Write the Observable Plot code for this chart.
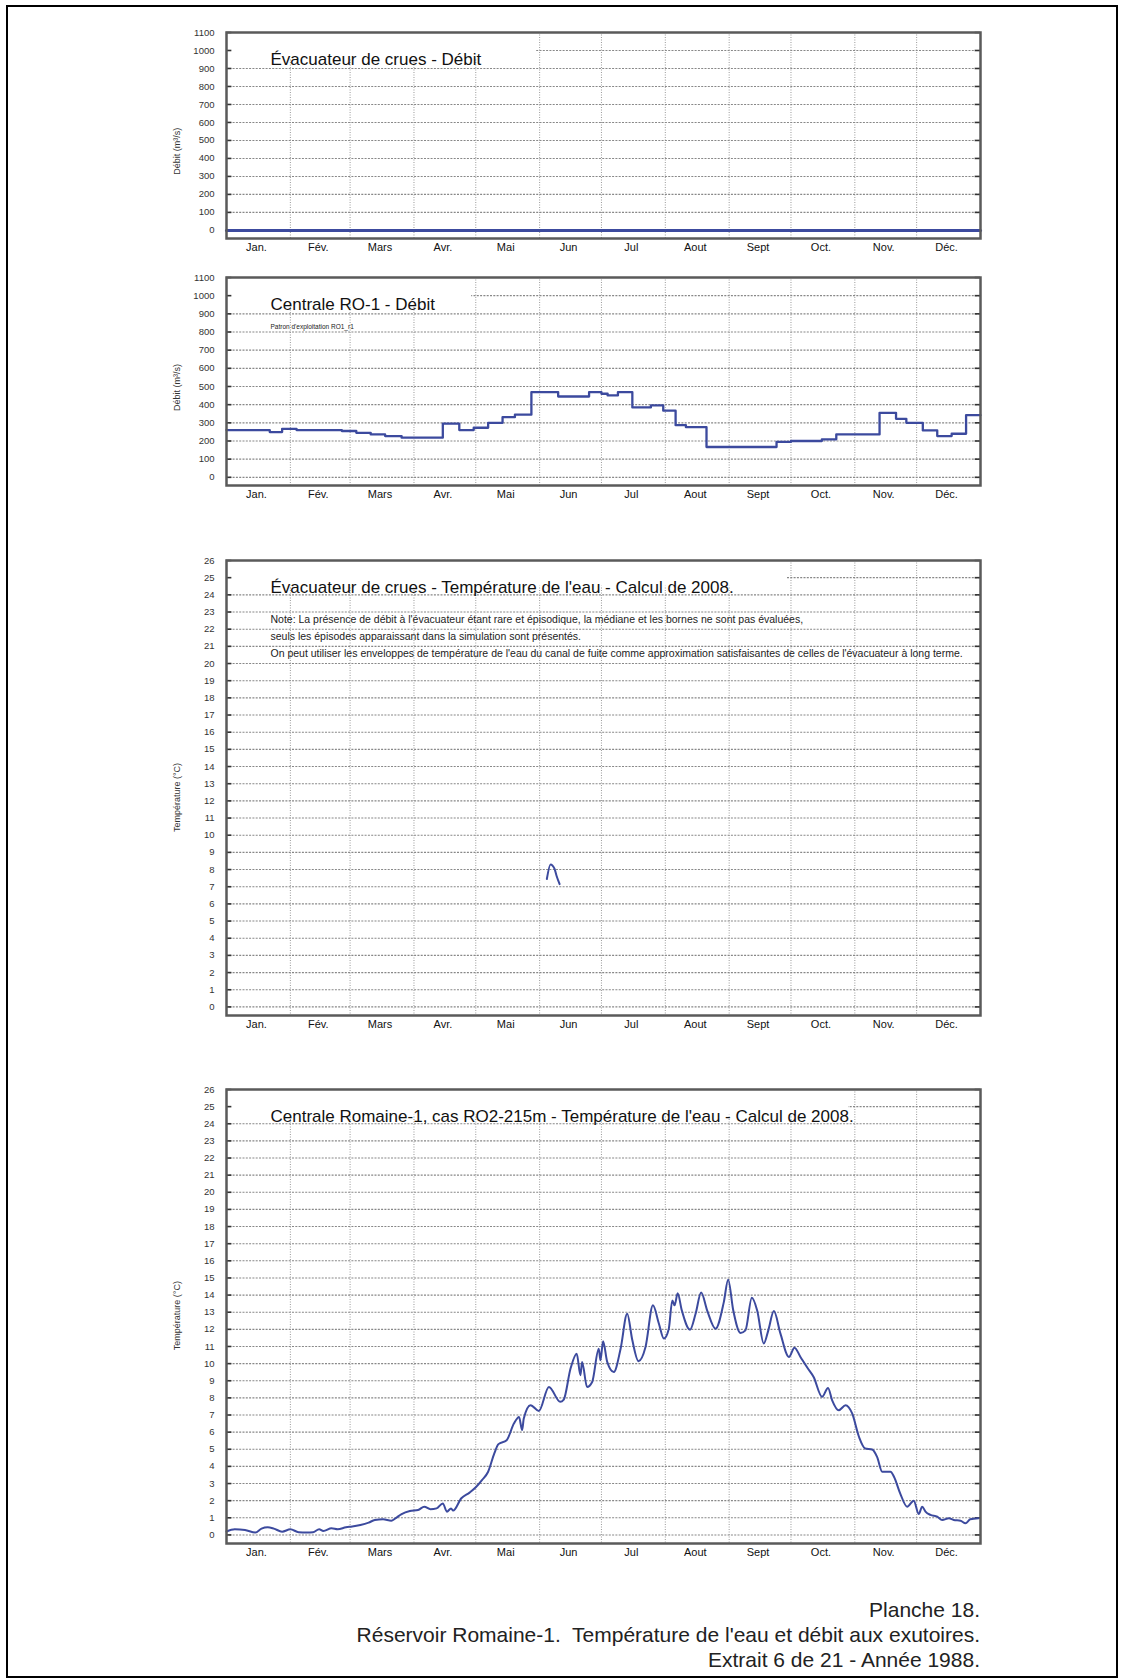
<!DOCTYPE html>
<html><head><meta charset="utf-8">
<script src="https://cdn.jsdelivr.net/npm/d3@7"></script>
<script src="https://cdn.jsdelivr.net/npm/@observablehq/plot@0.6"></script>
<style>
body{margin:0;background:#fff;}
#page{position:relative;width:1124px;height:1678px;font-family:"Liberation Sans",Arial,sans-serif;overflow:hidden;background:#fff;}
#border{position:absolute;left:6px;top:5px;right:6px;bottom:0px;border:2px solid #000;z-index:5;pointer-events:none;}
.panel{position:absolute;left:0;}
#caption{position:absolute;right:144px;top:1597px;text-align:right;font-size:21px;line-height:25px;color:#222;white-space:pre;}
</style></head>
<body><div id="page"><div id="border"></div><div id="caption"></div></div>
<script>
// ---------- data ----------
const months = ["Jan.","Fév.","Mars","Avr.","Mai","Jun","Jul","Aout","Sept","Oct.","Nov.","Déc."];
const debitTicks = [0,100,200,300,400,500,600,700,800,900,1000,1100];
const tempTicks = [0,1,2,3,4,5,6,7,8,9,10,11,12,13,14,15,16,17,18,19,20,21,22,23,24,25,26];

const titles = [
  "Évacuateur de crues - Débit",
  "Centrale RO-1 - Débit",
  "Évacuateur de crues - Température de l'eau - Calcul de 2008.",
  "Centrale Romaine-1, cas RO2-215m - Température de l'eau - Calcul de 2008."
];
const subtitleCentrale = "Patron d'exploitation RO1_r1";
const noteLines = [
  "Note: La présence de débit à l'évacuateur étant rare et épisodique, la médiane et les bornes ne sont pas évaluées,",
  "seuls les épisodes apparaissant dans la simulation sont présentés.",
  "On peut utiliser les enveloppes de température de l'eau du canal de fuite comme approximation satisfaisantes de celles de l'évacuateur à long terme."
];
const noteValues = [22.55, 21.55, 20.6];
const captionLines = ["Planche 18.", "Réservoir Romaine-1.  Température de l'eau et débit aux exutoires.", "Extrait 6 de 21 - Année 1988."];

// day of year (0 = 1 Jan 1988)
const evacDebitDays = [0, 366];
const evacDebitValues = [0, 0];

const centraleDebitDays = [0,21,27,34,56,63,70,77,85,105,113,120,127,134,140,148,161,176,182,185,190,197,206,212,218,223,233,267,274,289,296,317,325,330,338,345,352,359,366];
const centraleDebitValues = [260,249,267,260,255,245,236,227,218,296,260,273,300,331,345,469,445,469,460,451,469,385,396,367,287,276,167,195,200,209,236,355,322,300,258,227,240,342,342];

const evacTempDays = [155.5,157.3,159.2,160.2,161.7];
const evacTempValues = [7.45,8.3,8.05,7.64,7.15];

const centraleTempDays = [0,4,9,14,17,20,23,27,31,35,39,42,45,47,51,54,58,61,65,69,72,76,80,82,85,89,93,96,99,102,105,107,109,110,114,118,121,124,127,130,132,136,139.5,142,143.5,144.3,147.6,151.6,156.5,162,163.7,167,170,171.8,172.6,175,177.5,180.7,181.5,182.8,184.8,188,191.3,194.5,197,200,203.4,207,209.9,212.3,214.7,216.4,217.5,219,221,225,227.7,230.4,233.3,237.4,241.4,243.5,246,249.5,251.9,255,257.6,260.8,263,265.7,268.9,273,275.7,278.6,281.9,285,289.1,292,294,297.2,300.5,303.7,307,310,313.4,315.8,318.3,322.3,324,327,330.4,333.6,336,337.7,339.3,341.7,345,347.4,350.7,353,356.3,358.7,361,365];
const centraleTempValues = [0.2,0.33,0.29,0.14,0.37,0.45,0.37,0.19,0.33,0.16,0.14,0.16,0.33,0.23,0.39,0.33,0.45,0.49,0.58,0.72,0.87,0.91,0.83,0.97,1.22,1.40,1.46,1.65,1.50,1.55,1.84,1.36,1.55,1.42,2.14,2.47,2.78,3.20,3.69,4.76,5.30,5.53,6.50,6.89,6.12,6.80,7.57,7.24,8.64,7.77,7.90,9.71,10.58,9.32,10.1,8.64,8.93,10.87,10.19,11.3,10.1,9.51,10.87,12.91,11.36,10.14,10.97,13.40,12.33,11.46,12.04,13.69,13.40,14.1,13.11,11.98,12.91,14.15,13.11,12.04,13.59,14.9,13.1,11.79,11.94,13.84,13.1,11.17,11.94,13.07,11.75,10.39,10.93,10.39,9.77,9.22,8.06,8.58,7.86,7.28,7.57,7.09,5.73,5.05,4.99,4.56,3.69,3.69,3.40,2.43,1.65,2.00,1.22,1.65,1.36,1.17,1.07,0.87,0.97,0.87,0.83,0.68,0.91,0.97];

// ---------- helpers ----------
const day0 = Date.UTC(1988, 0, 1);
const toDate = d => new Date(day0 + d * 864e5);
const xDomain = [toDate(0), toDate(366)];
const monthStarts = d3.utcMonths(toDate(0), toDate(366));
const monthMids = monthStarts.map(m => new Date((+m + +d3.utcMonth.offset(m, 1)) / 2));
const zip = (days, vals) => days.map((d, i) => ({date: toDate(d), value: vals[i]}));

const LINE = "#3c4a9e";
const W = 1124, ML = 226, MR = 144, MT = 20, MB = 30;

function panel({top, frameH, yDomain, ticks, title, boxX2, boxY, ylabel, ylabelAt, series, curve, lineWidth = 2, extra = []}) {
  const tickLen = 2.6; // days
  const plot = Plot.plot({
    width: W, height: MT + frameH + MB,
    marginLeft: ML, marginRight: MR, marginTop: MT, marginBottom: MB,
    style: {fontFamily: '"Liberation Sans", Arial, sans-serif', background: "transparent", overflow: "visible"},
    x: {type: "utc", domain: xDomain, axis: null},
    y: {domain: yDomain, axis: null},
    marks: [
      Plot.ruleX(monthStarts.slice(1), {x: d => d, stroke: "#9a9a9a", strokeWidth: 1, strokeDasharray: "1,1.5"}),
      Plot.ruleY(ticks, {y: d => d, stroke: "#888", strokeWidth: 1.1, strokeDasharray: "2,1.3"}),
      Plot.rect([0], {x1: () => toDate(0), x2: () => toDate(boxX2), y1: () => boxY, y2: () => yDomain[1], fill: "white"}),
      Plot.ruleY(ticks, {y: d => d, x1: () => toDate(0), x2: () => toDate(tickLen), stroke: "#333", strokeWidth: 1.6}),
      Plot.ruleY(ticks, {y: d => d, x1: () => toDate(366 - tickLen), x2: () => toDate(366), stroke: "#333", strokeWidth: 1.6}),
      Plot.text(ticks, {y: d => d, text: d => String(d), frameAnchor: "left", textAnchor: "end", dx: -12, fontSize: 9.5, fill: "#333"}),
      Plot.text(monthMids, {x: d => d, text: d => months[d.getUTCMonth()], frameAnchor: "bottom", dx: -2, dy: 12, fontSize: 11, fill: "#111"}),
      Plot.text([ylabel], {text: d => d, y: () => ylabelAt, frameAnchor: "left", textAnchor: "middle", dx: -49, rotate: -90, fontSize: 9, fill: "#333"}),
      Plot.line(series, {x: "date", y: "value", stroke: LINE, strokeWidth: lineWidth, curve: curve}),
      Plot.frame({stroke: "#5a5a5a", strokeWidth: 2.5}),
      Plot.text([title], {text: d => d, frameAnchor: "top-left", dx: 44, dy: 20, fontSize: 17, textAnchor: "start", fill: "#111"}),
      ...extra
    ]
  });
  plot.classList.add("panel");
  plot.style.top = (top - MT) + "px";
  plot.style.position = "absolute";
  document.getElementById("page").appendChild(plot);
}

panel({top: 32, frameH: 206, yDomain: [-45, 1100], ticks: debitTicks, title: titles[0],
  boxX2: 150, boxY: 950, ylabel: "Débit (m³/s)", ylabelAt: 440, series: zip(evacDebitDays, evacDebitValues), curve: "linear", lineWidth: 3});

panel({top: 277, frameH: 208, yDomain: [-45, 1100], ticks: debitTicks, title: titles[1],
  boxX2: 119, boxY: 950, ylabel: "Débit (m³/s)", ylabelAt: 495, series: zip(centraleDebitDays, centraleDebitValues), curve: "step-after", lineWidth: 2.3,
  extra: [Plot.text([subtitleCentrale], {text: d => d, y: () => 830, frameAnchor: "left", dx: 44, fontSize: 6.5, textAnchor: "start", fill: "#222"})]});

panel({top: 560, frameH: 455, yDomain: [-0.5, 26], ticks: tempTicks, title: titles[2],
  boxX2: 272, boxY: 24.5, ylabel: "Température (°C)", ylabelAt: 12.2, series: zip(evacTempDays, evacTempValues), curve: "monotone-x",
  extra: [Plot.text(noteLines, {text: d => d, y: (d, i) => noteValues[i], frameAnchor: "left", dx: 44, fontSize: 10.5, textAnchor: "start", fill: "#222"})]});

panel({top: 1089, frameH: 454, yDomain: [-0.5, 26], ticks: tempTicks, title: titles[3],
  boxX2: 302, boxY: 24.5, ylabel: "Température (°C)", ylabelAt: 12.8, series: zip(centraleTempDays, centraleTempValues), curve: "monotone-x"});

document.getElementById("caption").textContent = captionLines.join("\n");
</script>
</body></html>
